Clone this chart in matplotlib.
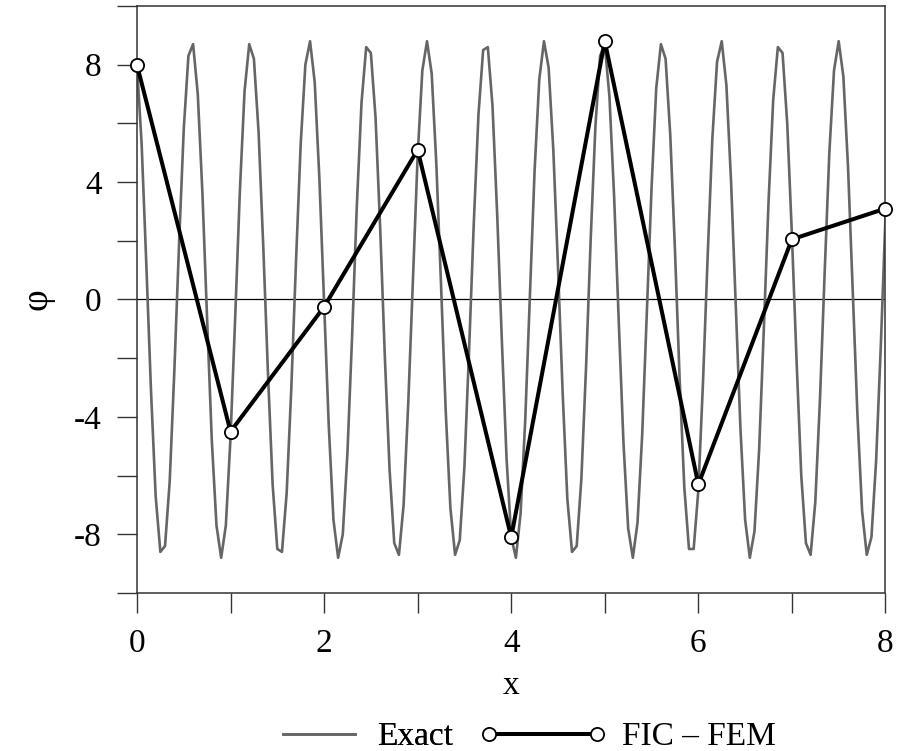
import numpy as np
import matplotlib.pyplot as plt
from matplotlib.ticker import MultipleLocator

plt.rcParams['font.family'] = ['Liberation Serif', 'DejaVu Serif']

# exact solution, sampled every 0.05 on [0, 8]
x_exact = np.arange(161) * 0.05
phi_exact = [
    8.0, 5.3, 1.2, -3.1, -6.7, -8.6, -8.4, -6.2, -2.4, 1.9,
    5.8, 8.3, 8.7, 7.0, 3.6, -0.7, -4.8, -7.7, -8.8, -7.7,
    -4.7, -0.6, 3.7, 7.1, 8.7, 8.2, 5.7, 1.8, -2.5, -6.3,
    -8.5, -8.6, -6.6, -3.0, 1.3, 5.3, 8.0, 8.8, 7.4, 4.1,
    -0.1, -4.3, -7.5, -8.8, -8.0, -5.2, -1.2, 3.2, 6.7, 8.6,
    8.4, 6.2, 2.4, -2.0, -5.8, -8.3, -8.7, -7.0, -3.5, 0.7,
    4.9, 7.8, 8.8, 7.7, 4.6, 0.5, -3.8, -7.1, -8.7, -8.2,
    -5.7, -1.7, 2.6, 6.3, 8.5, 8.6, 6.6, 2.9, -1.4, -5.4,
    -8.1, -8.8, -7.3, -4.1, 0.2, 4.4, 7.5, 8.8, 7.9, 5.1,
    1.1, -3.2, -6.8, -8.6, -8.4, -6.1, -2.3, 2.1, 5.9, 8.3,
    8.7, 6.9, 3.5, -0.8, -4.9, -7.8, -8.8, -7.6, -4.6, -0.4,
    3.8, 7.2, 8.7, 8.2, 5.6, 1.7, -2.7, -6.4, -8.5, -8.5,
    -6.5, -2.8, 1.5, 5.5, 8.1, 8.8, 7.3, 4.0, -0.2, -4.4,
    -7.5, -8.8, -7.9, -5.1, -1.0, 3.3, 6.8, 8.6, 8.4, 6.0,
    2.2, -2.1, -6.0, -8.3, -8.7, -6.9, -3.4, 0.9, 5.0, 7.8,
    8.8, 7.6, 4.5, 0.3, -3.9, -7.2, -8.7, -8.1, -5.5, -1.6,
    2.8,
]

# FIC-FEM nodal values
x_nodes = [0, 1, 2, 3, 4, 5, 6, 7, 8]
phi_fic = [8.0, -4.5, -0.25, 5.1, -8.1, 8.8, -6.3, 2.05, 3.1]

fig = plt.figure(figsize=(9.04, 7.51), dpi=100)
ax = fig.add_axes([0.1515, 0.2104, 0.828, 0.7816])

ax.axhline(0, color='black', lw=0.9, zorder=1)
exact_line, = ax.plot(x_exact, phi_exact, color='#666666', lw=1.9,
                      label='Exact', zorder=2)
fic_line, = ax.plot(x_nodes, phi_fic, color='black', lw=2.9, marker='o', ms=9.5,
                    mfc='white', mec='black', mew=1.3, label='FIC – FEM',
                    zorder=3, clip_on=False)

ax.set_xlim(0, 8)
ax.set_ylim(-10, 10)
ax.xaxis.set_major_locator(MultipleLocator(2))
ax.xaxis.set_minor_locator(MultipleLocator(1))
ax.set_yticks([-8, -4, 0, 4, 8])
ax.set_yticklabels(['-8', '-4', '0', '4', '8'])
ax.set_yticks([-10, -6, -2, 2, 6, 10], minor=True)
ax.tick_params(which='both', direction='out', length=14.5, width=1.0,
               color='#333333', labelsize=24, pad=11)
ax.tick_params(axis='x', which='both', top=False)
ax.tick_params(axis='y', which='both', right=False)
for s in ax.spines.values():
    s.set_linewidth(1.1)
    s.set_color('#333333')

ax.set_xlabel('x', fontsize=24, labelpad=8)
ax.set_ylabel('φ', fontsize=27, labelpad=14)

# two legend entries below the plot, each with its own handle length
common = dict(loc='center left', frameon=False, fontsize=24, numpoints=2,
              borderpad=0, borderaxespad=0)
leg1 = fig.legend(handles=[exact_line], bbox_to_anchor=(0.302, 0.0186),
                  handlelength=2.76, handletextpad=0.36, **common)
fig.add_artist(leg1)
fig.legend(handles=[fic_line], bbox_to_anchor=(0.530, 0.0186),
           handlelength=3.85, handletextpad=0.45, **common)

fig.savefig('out.png', dpi=100)
